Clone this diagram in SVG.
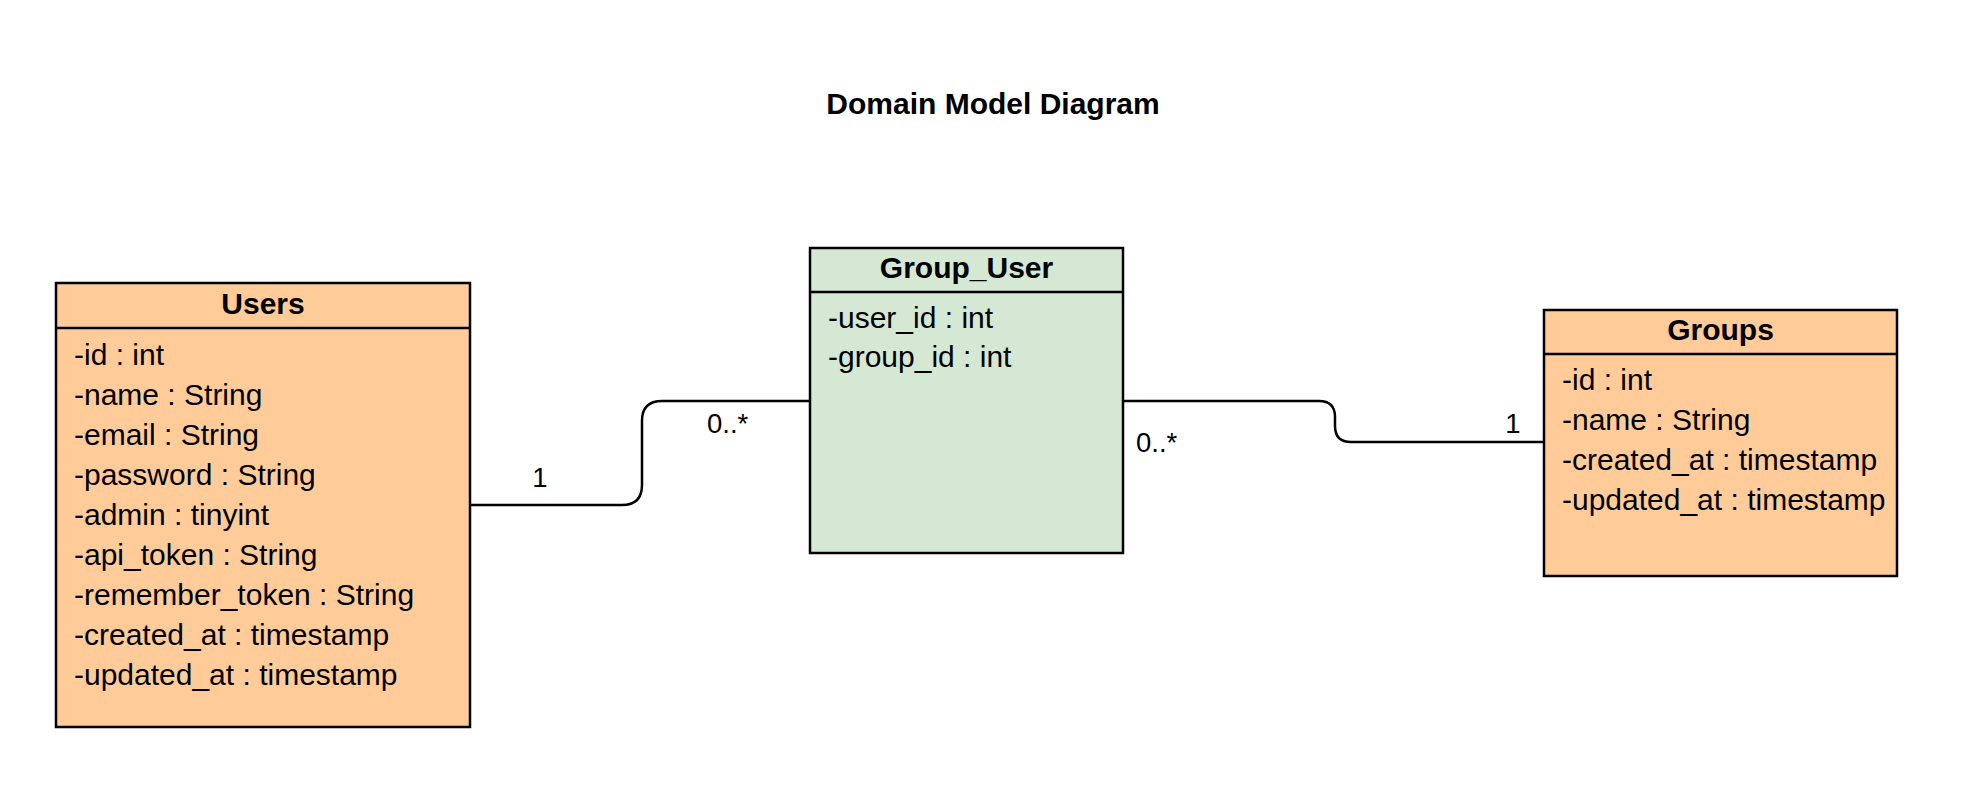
<svg xmlns="http://www.w3.org/2000/svg" width="1968" height="808" viewBox="0 0 1968 808">
<style>
text{font-family:"Liberation Sans",Arial,Helvetica,sans-serif;fill:#000}
.box{stroke:#000;stroke-width:2.5}
.orange{fill:#FFCC99}
.green{fill:#D5E8D4}
.sep{stroke:#000;stroke-width:2.5}
.head{font-size:30px;font-weight:bold;text-anchor:middle}
.attr{font-size:30px}
.title{font-size:30px;font-weight:bold;text-anchor:middle}
.lbl{font-size:27.5px}
.edge{fill:none;stroke:#000;stroke-width:2.5}
</style>
<rect width="1968" height="808" fill="#fff"/>
<text class="title" x="993" y="114">Domain Model Diagram</text>
<g id="connectors">
<path class="edge" d="M470,505 L622,505 Q642,505 642,485 L642,421 Q642,401 662,401 L810,401"/>
<path class="edge" d="M1123,401 L1319,401 Q1335,401 1335,417 L1335,426 Q1335,442 1351,442 L1544,442"/>
<text class="lbl" x="540" y="487" text-anchor="middle">1</text>
<text class="lbl" x="707" y="433">0..*</text>
<text class="lbl" x="1136" y="452">0..*</text>
<text class="lbl" x="1513" y="433" text-anchor="middle">1</text>
</g>
<g id="users">
<rect class="box orange" x="56" y="283" width="414" height="444"/>
<line class="sep" x1="56" y1="328" x2="470" y2="328"/>
<text class="head" x="263" y="314">Users</text>
<text class="attr" x="74" y="365">-id : int</text>
<text class="attr" x="74" y="405">-name : String</text>
<text class="attr" x="74" y="445">-email : String</text>
<text class="attr" x="74" y="485">-password : String</text>
<text class="attr" x="74" y="525">-admin : tinyint</text>
<text class="attr" x="74" y="565">-api_token : String</text>
<text class="attr" x="74" y="605">-remember_token : String</text>
<text class="attr" x="74" y="645">-created_at : timestamp</text>
<text class="attr" x="74" y="685">-updated_at : timestamp</text>
</g>
<g id="group_user">
<rect class="box green" x="810" y="248" width="313" height="305"/>
<line class="sep" x1="810" y1="292" x2="1123" y2="292"/>
<text class="head" x="966.5" y="278">Group_User</text>
<text class="attr" x="828" y="328">-user_id : int</text>
<text class="attr" x="828" y="367">-group_id : int</text>
</g>
<g id="groups">
<rect class="box orange" x="1544" y="310" width="353" height="266"/>
<line class="sep" x1="1544" y1="354" x2="1897" y2="354"/>
<text class="head" x="1720.5" y="340">Groups</text>
<text class="attr" x="1562" y="390">-id : int</text>
<text class="attr" x="1562" y="430">-name : String</text>
<text class="attr" x="1562" y="470">-created_at : timestamp</text>
<text class="attr" x="1562" y="510">-updated_at : timestamp</text>
</g>
</svg>
